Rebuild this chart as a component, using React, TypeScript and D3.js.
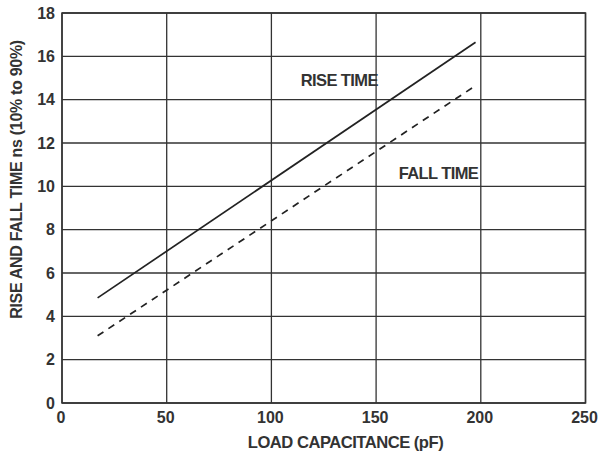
import React from "react";
import * as d3 from "d3";

const xTicks = [0, 50, 100, 150, 200, 250];
const yTicks = [0, 2, 4, 6, 8, 10, 12, 14, 16, 18];
const riseX = [17, 197.5];
const riseY = [4.85, 16.65];
const fallX = [17, 196];
const fallY = [3.1, 14.55];

const W = 602, H = 458;
const left = 62, right = 585.5, top = 13, bottom = 403;
const font = "'Liberation Sans', Arial, Helvetica, sans-serif";
const ink = "#333";

export default function App() {
  const x = d3.scaleLinear().domain([0, 250]).range([left, right]);
  const y = d3.scaleLinear().domain([0, 18]).range([bottom, top]);
  const line = d3.line<[number, number]>().x(d => x(d[0])).y(d => y(d[1]));
  const rise = riseX.map((v, i) => [v, riseY[i]] as [number, number]);
  const fall = fallX.map((v, i) => [v, fallY[i]] as [number, number]);
  return (
    <svg width={W} height={H} style={{ position: "absolute", left: 0, top: 0 }}>
      <rect width={W} height={H} fill="#fff" />
      {xTicks.map(t => (
        <line key={"gx" + t} x1={x(t)} x2={x(t)} y1={top} y2={bottom} stroke={ink} strokeWidth={1.3} />
      ))}
      {yTicks.map(t => (
        <line key={"gy" + t} x1={left} x2={right} y1={y(t)} y2={y(t)} stroke={ink} strokeWidth={1.3} />
      ))}
      <rect x={left} y={top} width={right - left} height={bottom - top} fill="none" stroke={ink} strokeWidth={1.5} />
      <path d={line(rise) || ""} fill="none" stroke="#222" strokeWidth={1.7} />
      <path d={line(fall) || ""} fill="none" stroke="#222" strokeWidth={1.7} strokeDasharray="7,6" />
      <g fontFamily={font} fontWeight="bold" fontSize={16} fill={ink}>
        {yTicks.map(t => (
          <text key={"ty" + t} x={55} y={y(t)} dy="0.36em" textAnchor="end">{t}</text>
        ))}
        {xTicks.map(t => (
          <text key={"tx" + t} x={x(t) - 1} y={422.8} textAnchor="middle">{t}</text>
        ))}
        <text x={345.5} y={448} textAnchor="middle" fontSize={16.6} letterSpacing={-0.5}>LOAD CAPACITANCE (pF)</text>
        <text transform={`translate(22,179.5) rotate(-90)`} textAnchor="middle" fontSize={16} letterSpacing={-0.3}>RISE AND FALL TIME ns (10% to 90%)</text>
        <text x={300.7} y={86} fontSize={16.5} letterSpacing={-0.6}>RISE TIME</text>
        <text x={398.7} y={179.3} fontSize={16.5} letterSpacing={-0.6}>FALL TIME</text>
      </g>
    </svg>
  );
}
